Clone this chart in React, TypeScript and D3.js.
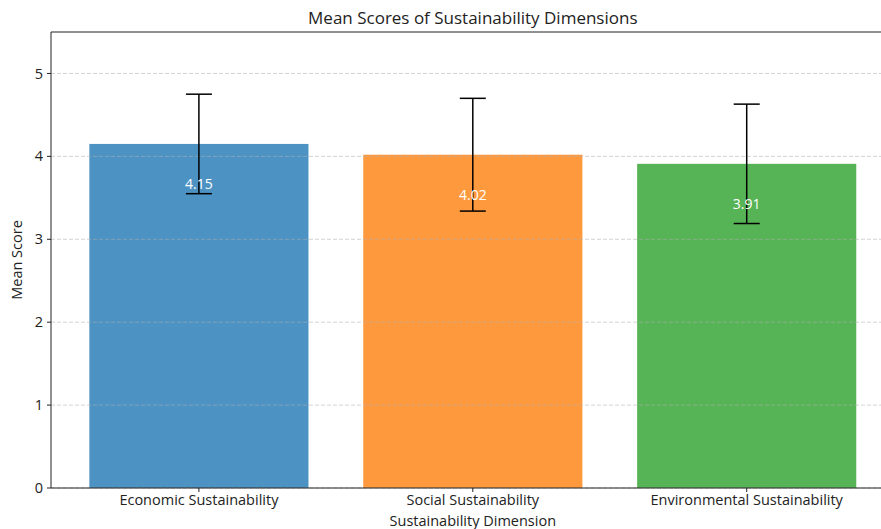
import React from "react";
import * as d3 from "d3";

const categories = ["Economic Sustainability", "Social Sustainability", "Environmental Sustainability"];
const means = [4.15, 4.02, 3.91];
const stds = [0.6, 0.68, 0.72];
const colors = ["#1f77b4", "#ff7f0e", "#2ca02c"];
const yTicks = [0, 1, 2, 3, 4, 5];

const W = 881, H = 529;
const left = 51, top = 32, bottom = 488;
const font = "'Open Sans', sans-serif";

export default function App() {
  const x = d3.scaleLinear().domain([-0.54, 2.54]).range([left, left + 3.08 * 273.9]);
  const y = d3.scaleLinear().domain([0, 5.5]).range([bottom, top]);
  const bw = x(0.4) - x(0);
  const right = x(2.54);
  const cx = (left + right) / 2;
  return (
    <svg width={W} height={H} style={{ position: "absolute", left: 0, top: 0 }}>
      <rect width={W} height={H} fill="#fff" />
      {means.map((m, i) => (
        <rect key={i} x={x(i - 0.4)} y={y(m)} width={bw * 2} height={y(0) - y(m)} fill={colors[i]} fillOpacity={0.8} />
      ))}
      {yTicks.map((t) => (
        <line key={t} x1={left} x2={right} y1={y(t)} y2={y(t)} stroke="#b0b0b0" strokeOpacity={0.7} strokeDasharray="4,2" strokeWidth={0.8} />
      ))}
      {means.map((m, i) => (
        <g key={i} stroke="#000" strokeWidth={1.5}>
          <line x1={x(i)} x2={x(i)} y1={y(m - stds[i])} y2={y(m + stds[i])} />
          <line x1={x(i) - 13} x2={x(i) + 13} y1={y(m - stds[i])} y2={y(m - stds[i])} />
          <line x1={x(i) - 13} x2={x(i) + 13} y1={y(m + stds[i])} y2={y(m + stds[i])} />
        </g>
      ))}
      {means.map((m, i) => (
        <text key={i} x={x(i)} y={y(m - 0.49)} dy="0.35em" textAnchor="middle" fill="#fff" fontSize={14} fontFamily={font}>
          {m.toFixed(2)}
        </text>
      ))}
      <line x1={left} x2={left} y1={top} y2={bottom} stroke="#222" strokeWidth={1} />
      <line x1={left} x2={right} y1={bottom} y2={bottom} stroke="#222" strokeWidth={1} />
      <line x1={left} x2={right} y1={top} y2={top} stroke="#222" strokeWidth={1} />
      {yTicks.map((t) => (
        <g key={t}>
          <line x1={left - 4} x2={left} y1={y(t)} y2={y(t)} stroke="#222" />
          <text x={left - 8} y={y(t)} dy="0.35em" textAnchor="end" fontSize={14.5} fontFamily={font} fill="#222">{t}</text>
        </g>
      ))}
      {categories.map((c, i) => (
        <g key={c}>
          <line x1={x(i)} x2={x(i)} y1={bottom} y2={bottom + 4} stroke="#222" />
          <text x={x(i)} y={bottom + 17} textAnchor="middle" fontSize={14.5} fontFamily={font} fill="#222">{c}</text>
        </g>
      ))}
      <text x={cx} y={526} textAnchor="middle" fontSize={14.5} fontFamily={font} fill="#222">Sustainability Dimension</text>
      <text transform={`translate(22,${(top + bottom) / 2}) rotate(-90)`} textAnchor="middle" fontSize={14.5} fontFamily={font} fill="#222">Mean Score</text>
      <text x={cx} y={24} textAnchor="middle" fontSize={17} fontFamily={font} fill="#222">Mean Scores of Sustainability Dimensions</text>
    </svg>
  );
}
